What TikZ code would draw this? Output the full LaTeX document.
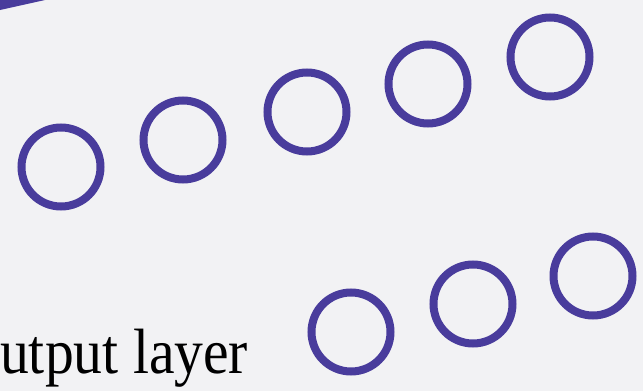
\documentclass[tikz,border=0pt]{standalone}
\usepackage{fontspec}
\setmainfont{Liberation Serif}
\usepackage{tikz}
\usetikzlibrary{positioning}
\definecolor{paper}{RGB}{242,242,244}
\definecolor{unit}{RGB}{73,60,156}

\begin{document}
\begin{tikzpicture}[x=1pt,y=-1pt,
  neuron/.style={circle,draw=unit,line width=8pt,minimum size=79pt,inner sep=0pt}]
  \fill[paper] (0,0) rectangle (643,391);
  \useasboundingbox (0,0) rectangle (643,391);
  \fill[unit] (0,0) -- (45,0) -- (0,10) -- cycle;
  % hidden units
  \node[neuron] (h1) at (61,167) {};
  \node[neuron] (h2) at (183,140) {};
  \node[neuron] (h3) at (307,112) {};
  \node[neuron] (h4) at (428,84) {};
  \node[neuron] (h5) at (550,57) {};
  % output units
  \node[neuron] (o1) at (351,332) {};
  \node[neuron] (o2) at (473,304) {};
  \node[neuron] (o3) at (593,276) {};
  \node[anchor=base west,inner sep=0pt,font=\fontsize{64}{64}\selectfont] (lbl) at (0,373) {\scalebox{0.9}[1]{utput layer}};
\end{tikzpicture}
\end{document}
